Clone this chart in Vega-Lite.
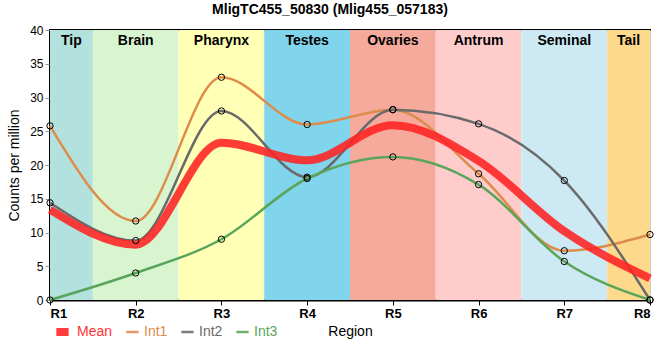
{
  "$schema": "https://vega.github.io/schema/vega-lite/v6.json",
  "width": 600,
  "height": 270,
  "autosize": "none",
  "padding": {"left": 50, "top": 30, "right": 10, "bottom": 60},
  "background": "white",
  "title": {"text": "MligTC455_50830 (Mlig455_057183)", "fontSize": 14, "fontWeight": "bold", "font": "Liberation Sans", "color": "#000", "offset": 7, "dx": -20, "anchor": "middle"},
  "config": {
    "view": {"stroke": "#000", "strokeWidth": 2},
    "font": "Liberation Sans",
    "axis": {"gridColor": "#cccccc", "gridWidth": 1, "domainColor": "#000", "domainWidth": 2, "zindex": 1, "labelColor": "#000", "titleColor": "#000", "titleFontWeight": "normal", "titleFontSize": 14},
    "axisY": {"values": [0, 5, 10, 15, 20, 25, 30, 35, 40], "labelFontSize": 12, "tickColor": "#999", "tickSize": 5, "titlePadding": 8}
  },
  "datasets": {
    "bands": [
      {"region": "Tip", "x0": 1, "x1": 1.5},
      {"region": "Brain", "x0": 1.5, "x1": 2.5},
      {"region": "Pharynx", "x0": 2.5, "x1": 3.5},
      {"region": "Testes", "x0": 3.5, "x1": 4.5},
      {"region": "Ovaries", "x0": 4.5, "x1": 5.5},
      {"region": "Antrum", "x0": 5.5, "x1": 6.5},
      {"region": "Seminal", "x0": 6.5, "x1": 7.5},
      {"region": "Tail", "x0": 7.5, "x1": 8}
    ],
    "series": [
      {"series": "Int1", "r": 1, "value": 25.8}, {"series": "Int1", "r": 2, "value": 11.7}, {"series": "Int1", "r": 3, "value": 33.0}, {"series": "Int1", "r": 4, "value": 26.0},
      {"series": "Int1", "r": 5, "value": 28.2}, {"series": "Int1", "r": 6, "value": 18.7}, {"series": "Int1", "r": 7, "value": 7.3}, {"series": "Int1", "r": 8, "value": 9.7},
      {"series": "Int2", "r": 1, "value": 14.4}, {"series": "Int2", "r": 2, "value": 8.8}, {"series": "Int2", "r": 3, "value": 28.0}, {"series": "Int2", "r": 4, "value": 18.2},
      {"series": "Int2", "r": 5, "value": 28.2}, {"series": "Int2", "r": 6, "value": 26.1}, {"series": "Int2", "r": 7, "value": 17.7}, {"series": "Int2", "r": 8, "value": 0},
      {"series": "Int3", "r": 1, "value": 0}, {"series": "Int3", "r": 2, "value": 4.0}, {"series": "Int3", "r": 3, "value": 9.0}, {"series": "Int3", "r": 4, "value": 18.0},
      {"series": "Int3", "r": 5, "value": 21.2}, {"series": "Int3", "r": 6, "value": 17.1}, {"series": "Int3", "r": 7, "value": 5.7}, {"series": "Int3", "r": 8, "value": 0}
    ],
    "mean": [
      {"series": "Mean", "r": 1, "value": 13.4}, {"series": "Mean", "r": 2, "value": 8.2}, {"series": "Mean", "r": 3, "value": 23.3}, {"series": "Mean", "r": 4, "value": 20.7},
      {"series": "Mean", "r": 5, "value": 25.9}, {"series": "Mean", "r": 6, "value": 20.6}, {"series": "Mean", "r": 7, "value": 10.2}, {"series": "Mean", "r": 8, "value": 3.2}
    ]
  },
  "layer": [
    {
      "data": {"name": "bands"},
      "mark": {"type": "rect"},
      "encoding": {
        "x": {"field": "x0", "type": "quantitative", "scale": {"domain": [1, 8], "nice": false, "zero": false},
          "axis": {"values": [1, 2, 3, 4, 5, 6, 7, 8], "labelExpr": "'R' + datum.value", "title": "Region", "labelFontSize": 13, "labelFontWeight": "bold", "tickColor": "#000", "tickSize": 5, "labelPadding": 2, "titlePadding": 4}},
        "x2": {"field": "x1"},
        "fill": {"field": "region", "type": "nominal", "legend": null,
          "scale": {"domain": ["Tip", "Brain", "Pharynx", "Testes", "Ovaries", "Antrum", "Seminal", "Tail"],
                    "range": ["#b3e2de", "#d9f5d0", "#ffffb5", "#80d4ec", "#f5aa9c", "#ffcccc", "#cdeaf4", "#fdd98c"]}}
      }
    },
    {
      "data": {"name": "bands"},
      "transform": [{"calculate": "(datum.x0 + datum.x1) / 2", "as": "mid"}],
      "mark": {"type": "text", "baseline": "top", "dy": 4, "fontSize": 14, "fontWeight": "bold", "color": "#000"},
      "encoding": {
        "x": {"field": "mid", "type": "quantitative"},
        "y": {"datum": 40, "type": "quantitative", "scale": {"domain": [0, 40], "nice": false},
          "axis": {"values": [0, 5, 10, 15, 20, 25, 30, 35, 40], "title": "Counts per million"}},
        "text": {"field": "region"}
      }
    },
    {
      "data": {"name": "series"},
      "mark": {"type": "line", "interpolate": "monotone"},
      "encoding": {
        "x": {"field": "r", "type": "quantitative"},
        "y": {"field": "value", "type": "quantitative", "axis": {"values": [0, 5, 10, 15, 20, 25, 30, 35, 40], "title": "Counts per million"}},
        "stroke": {"field": "series", "type": "nominal",
          "scale": {"domain": ["Mean", "Int1", "Int2", "Int3"], "range": ["#ff2222", "#dd8c4c", "#6a6a6a", "#5aa55a"]},
          "legend": {"orient": "none", "legendX": 2, "legendY": 294, "direction": "horizontal", "title": null, "symbolType": "stroke", "symbolSize": 150, "labelFontSize": 14, "labelFont": "Liberation Sans", "columnPadding": 12, "labelOffset": 4, "clipHeight": 16,
            "labelColor": {"expr": "datum.value == 'Mean' ? '#ff3333' : datum.value == 'Int1' ? '#dd8c4c' : datum.value == 'Int2' ? '#6a6a6a' : '#5aa55a'"}}},
        "strokeWidth": {"field": "series", "type": "nominal", "scale": {"type": "ordinal", "domain": ["Mean", "Int1", "Int2", "Int3"], "range": [8, 2.5, 2.5, 2.5]}},
        "detail": {"field": "series"}
      }
    },
    {
      "data": {"name": "mean"},
      "mark": {"type": "line", "interpolate": "monotone", "opacity": 0.88},
      "encoding": {
        "x": {"field": "r", "type": "quantitative"},
        "y": {"field": "value", "type": "quantitative", "axis": {"values": [0, 5, 10, 15, 20, 25, 30, 35, 40], "title": "Counts per million"}},
        "stroke": {"field": "series", "type": "nominal"},
        "strokeWidth": {"field": "series", "type": "nominal", "scale": {"type": "ordinal", "domain": ["Mean", "Int1", "Int2", "Int3"], "range": [8, 2.5, 2.5, 2.5]}}
      }
    },
    {
      "data": {"name": "series"},
      "mark": {"type": "point", "shape": "circle", "filled": false, "stroke": "#000", "strokeWidth": 1, "size": 40, "opacity": 1},
      "encoding": {
        "x": {"field": "r", "type": "quantitative"},
        "y": {"field": "value", "type": "quantitative", "axis": {"values": [0, 5, 10, 15, 20, 25, 30, 35, 40], "title": "Counts per million"}}
      }
    }
  ]
}
